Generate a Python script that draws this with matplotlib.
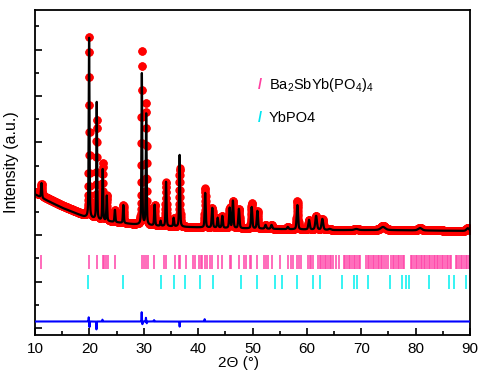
import numpy as np
import matplotlib
matplotlib.use('Agg')
import matplotlib.pyplot as plt
from matplotlib.ticker import MultipleLocator, NullFormatter

plt.rcParams['font.family'] = ['Liberation Sans', 'DejaVu Sans']
plt.rcParams['mathtext.fontset'] = 'custom'
plt.rcParams['mathtext.rm'] = 'Liberation Sans'
plt.rcParams['mathtext.default'] = 'regular'

# ---------------- data ----------------
step = 0.02
two_theta_min, two_theta_max = 10, 90

# background knots (2theta, intensity): calculated and observed
bg_x = [10, 12, 15, 19, 22, 25, 28, 33, 38, 45, 55, 65, 75, 90]
bg_calc_y = [2880, 2760, 2590, 2400, 2318, 2276, 2236, 2195, 2175, 2153, 2132, 2110, 2110, 2090]
bg_obs_y = [2930, 2810, 2640, 2440, 2340, 2290, 2245, 2200, 2180, 2158, 2136, 2114, 2114, 2094]

# reflections: position, observed top, calculated top, width
peak_pos  = [11.2, 19.95, 21.35, 22.45, 23.2, 24.7, 26.25, 29.65, 30.45, 32.0,
             33.1, 34.1, 35.5, 36.6, 39.1, 41.3, 42.6, 43.6, 44.45, 45.8,
             46.4, 47.5, 49.85, 50.9, 52.4, 53.5, 56.5, 58.25, 60.4, 61.7,
             62.85, 64.2, 69.1, 74.0, 80.8, 89.6]
peak_obs  = [3110, 6315, 4504, 3556, 2845, 2543, 2651, 5991, 4849, 2651,
             2306, 3147, 2371, 3448, 2155, 3017, 2586, 2371, 2414, 2586,
             2737, 2565, 2694, 2522, 2220, 2220, 2177, 2737, 2328, 2414,
             2349, 2134, 2134, 2198, 2155, 2150]
peak_calc = [3125, 6293, 4892, 3427, 2845, 2543, 2651, 5517, 4634, 2651,
             2306, 3147, 2371, 3728, 2155, 2909, 2586, 2371, 2414, 2586,
             2737, 2565, 2608, 2522, 2220, 2220, 2177, 2651, 2328, 2414,
             2349, 2134, 2134, 2177, 2155, 2150]
peak_fwhm = [0.2, 0.17, 0.17, 0.18, 0.18, 0.19, 0.19, 0.17, 0.18, 0.2,
             0.2, 0.2, 0.2, 0.2, 0.35, 0.22, 0.24, 0.24, 0.24, 0.24,
             0.24, 0.26, 0.26, 0.26, 0.3, 0.3, 0.3, 0.28, 0.3, 0.35,
             0.35, 0.5, 0.8, 1.0, 0.8, 0.6]

# difference curve spikes
diff_base = 140
diff_pos = [19.88, 20.02, 21.3, 22.4, 29.62, 29.75, 30.4, 30.55, 31.9, 36.6, 41.2]
diff_amp = [90, -120, -170, 40, 200, -60, 80, -40, 30, -110, 50]

# Bragg positions
bragg_main = [11.1, 19.99, 21.33, 22.44, 22.7, 23.1, 23.5, 24.7, 29.7, 30.0, 30.4, 30.7,
              31.9, 33.8, 34.1, 35.75, 36.5, 36.6, 37.8, 39.05, 39.36, 40.16, 40.47, 40.7,
              41.3, 41.7, 42.1, 42.6, 43.65, 44.45, 45.8, 46.1, 47.5, 48.4, 48.75, 49.5,
              49.8, 50.9, 52.2, 52.5, 52.85, 53.5, 55.0, 56.5, 57.0, 57.45, 58.2, 58.5,
              58.9, 60.2, 60.5, 60.8, 61.1, 62.05, 62.35, 62.65, 62.97, 63.3, 63.6, 63.9,
              64.2, 64.5, 64.75, 65.35, 65.96, 66.8, 67.1, 67.4, 67.7, 68.0, 68.3, 68.6,
              68.9, 69.2, 69.5, 69.8, 70.9, 71.2, 71.5, 71.8, 72.1, 72.4, 72.7, 73.0,
              73.3, 73.6, 73.9, 74.2, 74.5, 74.85, 75.5, 75.8, 76.1, 76.4, 76.7, 77.0,
              77.3, 77.6, 77.9, 79.1, 79.4, 79.7, 80.0, 80.3, 80.6, 80.9, 81.2, 81.5,
              81.8, 82.1, 82.4, 82.7, 83.0, 83.3, 83.6, 83.9, 84.2, 84.5, 84.8, 85.1,
              85.4, 85.7, 86.0, 86.3, 86.5, 87.4, 87.7, 88.0, 88.3, 88.6, 88.9, 89.2,
              89.5, 89.8]
bragg_ybpo4 = [19.8, 26.25, 33.2, 35.5, 37.5, 40.3, 42.7, 47.8, 50.9, 54.1, 55.4,
               58.2, 61.1, 62.35, 66.4, 68.7, 69.3, 71.2, 75.2, 77.5, 78.2, 78.8,
               82.4, 86.2, 87.1, 89.3]

main_row = (1272, 1573)
yb_row = (841, 1142)

legend_main = 'Ba$_2$SbYb(PO$_4$)$_4$'
legend_yb = 'YbPO4'

# ---------------- build profiles ----------------
x = np.arange(two_theta_min, two_theta_max + step / 2, step)
bg_obs = np.interp(x, bg_x, bg_obs_y)
bg_calc = np.interp(x, bg_x, bg_calc_y)


def pv(xx, p, w, eta=0.4):
    d = (xx - p) / w
    return (1 - eta) * np.exp(-4 * np.log(2) * d * d) + eta / (1 + 4 * d * d)


obs = bg_obs.copy()
calc = bg_calc.copy()
for p, o, c, w in zip(peak_pos, peak_obs, peak_calc, peak_fwhm):
    bo = np.interp(p, bg_x, bg_obs_y)
    bc = np.interp(p, bg_x, bg_calc_y)
    obs += max(o - bo, 0) * pv(x, p, w)
    calc += max(c - bc, 0) * pv(x, p, w)

diff = np.full_like(x, diff_base, dtype=float)
for p, a in zip(diff_pos, diff_amp):
    diff += a * pv(x, p, 0.08, 0.0)

# ---------------- plot ----------------
fig = plt.figure(figsize=(4.78, 3.74), dpi=100)
ax = fig.add_axes([35 / 478, 39 / 374, 435 / 478, 325 / 374])

ax.plot(x, obs, 'o', color='#FF0000', ms=6.0, mec='#FF0000', mew=0, zorder=2)
ax.plot(x, calc, '-', color='black', lw=1.6, zorder=3)
ax.plot(x, diff, '-', color='#0000FF', lw=1.5, zorder=3)
ax.vlines(bragg_main, *main_row, color='#FF44A8', lw=1.1, zorder=2)
ax.vlines(bragg_ybpo4, *yb_row, color='#00F0F0', lw=1.1, zorder=2)

ax.set_xlim(two_theta_min, two_theta_max)
ax.set_ylim(-151, 6853)
ax.xaxis.set_major_locator(MultipleLocator(10))
ax.xaxis.set_minor_locator(MultipleLocator(5))
ax.yaxis.set_major_locator(MultipleLocator(1000))
ax.yaxis.set_minor_locator(MultipleLocator(500))
ax.yaxis.set_major_formatter(NullFormatter())
ax.tick_params(which='both', direction='in', width=1.2, top=False, right=False,
               labelsize=11, pad=5)
ax.tick_params(which='major', length=5)
ax.tick_params(which='minor', length=3)
for s in ax.spines.values():
    s.set_linewidth(1.3)

ax.set_xlabel('2Θ (°)', fontsize=11)
ax.xaxis.set_label_coords(0.467, -0.065)
ax.set_ylabel('Intensity (a.u.)', fontsize=11.5)
ax.yaxis.set_label_coords(-0.036, 0.532)

ax.text(0.518, 0.769, '/', transform=ax.transAxes, color='#FF3FA0', fontsize=10.5,
        fontweight='bold', ha='center', va='center')
ax.text(0.538, 0.769, legend_main, transform=ax.transAxes, fontsize=10.5,
        ha='left', va='center')
ax.text(0.518, 0.668, '/', transform=ax.transAxes, color='#00E5F0', fontsize=10.5,
        fontweight='bold', ha='center', va='center')
ax.text(0.538, 0.668, legend_yb, transform=ax.transAxes, fontsize=10.5,
        ha='left', va='center')

fig.savefig('out.png', dpi=100)
